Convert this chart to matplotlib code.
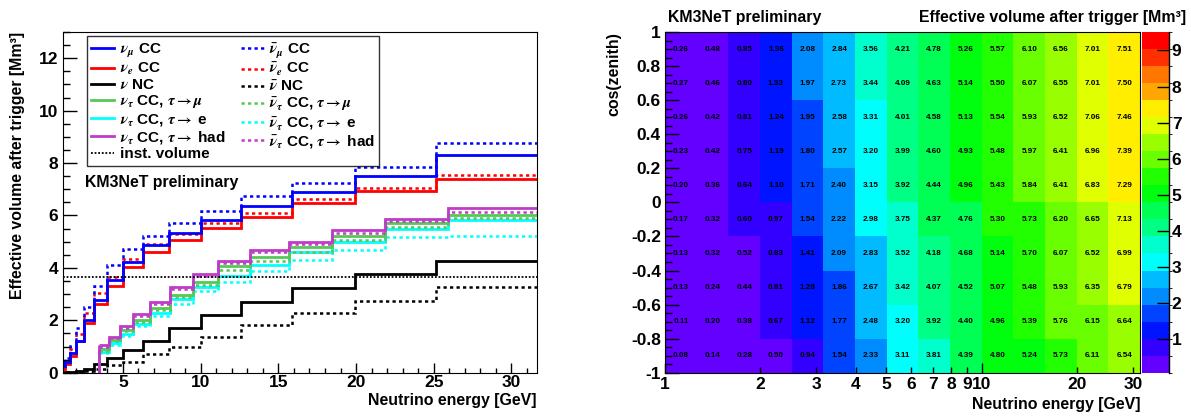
import numpy as np
import matplotlib
matplotlib.use("Agg")
import matplotlib.pyplot as plt
from matplotlib.colors import ListedColormap, BoundaryNorm
from matplotlib.lines import Line2D
from matplotlib.ticker import MultipleLocator, FixedLocator, FixedFormatter

plt.rcParams["font.family"] = ["Liberation Sans", "DejaVu Sans"]
plt.rcParams["font.weight"] = "bold"
plt.rcParams["mathtext.fontset"] = "stix"

# ---- left panel: effective volume vs neutrino energy ----
energy_edges = [1.0, 1.26, 1.58, 2.0, 2.51, 3.16, 3.98, 5.01, 6.31, 7.94,
                10.0, 12.59, 15.85, 19.95, 25.12, 31.62]
numu_cc = [0.25, 0.42, 0.74, 1.22, 2.0, 2.77, 3.55, 4.22, 4.87, 5.34, 5.84, 6.36, 6.91, 7.51, 8.31]
anumu_cc = [0.3, 0.55, 1.02, 1.69, 2.52, 3.31, 4.11, 4.71, 5.2, 5.7, 6.17, 6.75, 7.25, 7.86, 8.76]
nue_cc = [0.15, 0.35, 0.65, 1.2, 1.89, 2.61, 3.31, 4.03, 4.59, 5.06, 5.52, 5.95, 6.46, 6.95, 7.38]
anue_cc = [0.2, 0.45, 0.9, 1.48, 2.27, 3.03, 3.67, 4.34, 4.92, 5.3, 5.7, 6.1, 6.64, 7.05, 7.55]
nu_nc = [0.01, 0.02, 0.04, 0.08, 0.15, 0.32, 0.55, 0.85, 1.22, 1.69, 2.2, 2.71, 3.25, 3.77, 4.27]
anu_nc = [0.0, 0.01, 0.02, 0.04, 0.07, 0.13, 0.3, 0.42, 0.7, 0.99, 1.38, 1.82, 2.27, 2.75, 3.28]

tau_edges = [3.44, 4.08, 4.79, 5.64, 6.72, 8.0, 9.5, 11.1, 13.15, 15.67, 18.48, 21.85, 25.9, 31.62]
nutau_mu = [0.89, 1.25, 1.63, 2.01, 2.46, 2.97, 3.47, 4.06, 4.42, 4.8, 5.22, 5.7, 6.02]
anutau_mu = [0.84, 1.2, 1.58, 1.95, 2.38, 2.88, 3.33, 3.92, 4.25, 4.62, 5.07, 5.55, 5.92]
nutau_e = [0.8, 1.12, 1.48, 1.84, 2.28, 2.8, 3.27, 3.7, 4.12, 4.6, 5.0, 5.48, 5.83]
anutau_e = [0.74, 1.05, 1.4, 1.78, 2.18, 2.62, 3.13, 3.48, 3.88, 4.3, 4.68, 5.19, 5.21]
nutau_had = [1.06, 1.38, 1.78, 2.23, 2.68, 3.26, 3.75, 4.27, 4.69, 5.0, 5.43, 5.87, 6.27]
anutau_had = [1.0, 1.32, 1.72, 2.17, 2.62, 3.2, 3.69, 4.18, 4.62, 4.93, 5.35, 5.79, 6.13]

inst_volume = 3.67

# ---- right panel: effective volume map (energy x cos zenith) ----
coszen_edges = [-1.0, -0.8, -0.6, -0.4, -0.2, 0.0, 0.2, 0.4, 0.6, 0.8, 1.0]
# rows listed from top (cos = 1) to bottom (cos = -1)
veff_map = [
    [0.26, 0.48, 0.85, 1.36, 2.08, 2.84, 3.56, 4.21, 4.78, 5.26, 5.57, 6.10, 6.56, 7.01, 7.51],
    [0.27, 0.46, 0.80, 1.33, 1.97, 2.73, 3.44, 4.09, 4.63, 5.14, 5.50, 6.07, 6.55, 7.01, 7.50],
    [0.26, 0.42, 0.81, 1.24, 1.95, 2.58, 3.31, 4.01, 4.58, 5.13, 5.54, 5.93, 6.52, 7.06, 7.46],
    [0.23, 0.42, 0.75, 1.19, 1.80, 2.57, 3.20, 3.99, 4.60, 4.93, 5.48, 5.97, 6.41, 6.96, 7.39],
    [0.20, 0.36, 0.64, 1.10, 1.71, 2.40, 3.15, 3.92, 4.44, 4.96, 5.43, 5.84, 6.41, 6.83, 7.29],
    [0.17, 0.32, 0.60, 0.97, 1.54, 2.22, 2.98, 3.75, 4.37, 4.76, 5.30, 5.73, 6.20, 6.65, 7.13],
    [0.13, 0.32, 0.52, 0.83, 1.41, 2.09, 2.83, 3.52, 4.18, 4.68, 5.14, 5.70, 6.07, 6.52, 6.99],
    [0.13, 0.24, 0.44, 0.81, 1.28, 1.86, 2.67, 3.42, 4.07, 4.52, 5.07, 5.48, 5.93, 6.35, 6.79],
    [0.11, 0.20, 0.38, 0.67, 1.12, 1.77, 2.48, 3.20, 3.92, 4.40, 4.96, 5.39, 5.76, 6.15, 6.64],
    [0.08, 0.14, 0.28, 0.50, 0.94, 1.54, 2.33, 3.11, 3.81, 4.39, 4.80, 5.24, 5.73, 6.11, 6.54],
]
z_min, z_max = 0.08, 9.51

# ROOT "pretty" palette sampled at 20 contour levels
palette = ["#6300FF", "#3300FF", "#0014FF", "#0044FF", "#008BFF",
           "#00BBFF", "#00FFFC", "#00FFCC", "#00FF85", "#00FF55",
           "#00FF0E", "#22FF00", "#69FF00", "#99FF00", "#E0FF00",
           "#FFEE00", "#FFA700", "#FF7700", "#FF3000", "#FF0000"]

BLUE, RED, BLACK = "#0000FF", "#FF0000", "#000000"
GREEN, CYAN, MAGENTA = "#55C855", "#00FFFF", "#C03CC8"
DOT = (0, (1.3, 1.3))
FS = 11.4      # titles
TFS = 12.5     # tick labels

fig = plt.figure(figsize=(11.91, 4.17), dpi=100)

# ================= left panel =================
ax = fig.add_axes([0.0526, 0.1062, 0.398, 0.817])

series = [
    (nu_nc, energy_edges, BLACK, "-"), (anu_nc, energy_edges, BLACK, DOT),
    (nutau_e, tau_edges, CYAN, "-"), (anutau_e, tau_edges, CYAN, DOT),
    (nutau_mu, tau_edges, GREEN, "-"), (anutau_mu, tau_edges, GREEN, DOT),
    (nutau_had, tau_edges, MAGENTA, "-"), (anutau_had, tau_edges, MAGENTA, DOT),
    (nue_cc, energy_edges, RED, "-"), (anue_cc, energy_edges, RED, DOT),
    (numu_cc, energy_edges, BLUE, "-"), (anumu_cc, energy_edges, BLUE, DOT),
]
for vals, edges, col, ls in series:
    lw = 2.0 if ls == "-" else 1.8
    ax.stairs(vals, edges, baseline=None, color=col, linestyle=ls, linewidth=lw)
    # rising edge from zero at the first bin (ROOT hist outline)
    ax.vlines(edges[0], 0, vals[0], color=col, linestyle=ls, linewidth=lw)

ax.axhline(inst_volume, color="black", linestyle=(0, (1, 1)), linewidth=1.3)

ax.set_xlim(1.12, 31.62)
ax.set_ylim(0, 13)
ax.xaxis.set_major_locator(MultipleLocator(5))
ax.xaxis.set_minor_locator(MultipleLocator(1))
ax.yaxis.set_major_locator(MultipleLocator(2))
ax.yaxis.set_minor_locator(MultipleLocator(0.5))
ax.tick_params(axis="both", which="both", direction="in", labelsize=TFS, width=1)
ax.tick_params(axis="x", which="major", length=7, pad=2)
ax.tick_params(axis="x", which="minor", length=3.5)
ax.tick_params(axis="y", which="major", length=10, pad=3)
ax.tick_params(axis="y", which="minor", length=5)

ax.set_xlabel("Neutrino energy [GeV]", fontsize=FS, fontweight="bold", loc="right")
ax.xaxis.set_label_coords(1.0, -0.06)
ax.set_ylabel("Effective volume after trigger [Mm\u00b3]", fontsize=FS, fontweight="bold", loc="top")
ax.yaxis.set_label_coords(-0.08, 1.0)

ax.text(0.047, 0.557, "KM3NeT preliminary", transform=ax.transAxes,
        fontsize=FS, fontweight="bold", va="center", ha="left")

handles = [
    Line2D([], [], color=BLUE, lw=2.0), Line2D([], [], color=RED, lw=2.0),
    Line2D([], [], color=BLACK, lw=2.0), Line2D([], [], color=GREEN, lw=2.0),
    Line2D([], [], color=CYAN, lw=2.0), Line2D([], [], color=MAGENTA, lw=2.0),
    Line2D([], [], color="black", lw=1.3, linestyle=(0, (1, 1))),
    Line2D([], [], color=BLUE, lw=1.8, linestyle=DOT), Line2D([], [], color=RED, lw=1.8, linestyle=DOT),
    Line2D([], [], color=BLACK, lw=1.8, linestyle=DOT), Line2D([], [], color=GREEN, lw=1.8, linestyle=DOT),
    Line2D([], [], color=CYAN, lw=1.8, linestyle=DOT), Line2D([], [], color=MAGENTA, lw=1.8, linestyle=DOT),
]
labels = [
    r"$\nu_\mu$ CC", r"$\nu_e$ CC", r"$\nu$ NC",
    r"$\nu_\tau$ CC, $\tau \rightarrow \mu$", r"$\nu_\tau$ CC, $\tau \rightarrow$ e",
    r"$\nu_\tau$ CC, $\tau \rightarrow$ had", "inst. volume",
    r"$\bar{\nu}_\mu$ CC", r"$\bar{\nu}_e$ CC", r"$\bar{\nu}$ NC",
    r"$\bar{\nu}_\tau$ CC, $\tau \rightarrow \mu$", r"$\bar{\nu}_\tau$ CC, $\tau \rightarrow$ e",
    r"$\bar{\nu}_\tau$ CC, $\tau \rightarrow$ had",
]
leg = ax.legend(handles, labels, ncol=2, loc="upper left", bbox_to_anchor=(0.051, 0.988),
                fontsize=11, frameon=True, fancybox=False, edgecolor="black",
                handlelength=1.5, handletextpad=0.35, labelspacing=0.08,
                columnspacing=1.0, borderpad=0.3, borderaxespad=0)
leg.get_frame().set_linewidth(1.0)
for t in leg.get_texts():
    t.set_fontweight("bold")

# ================= right panel =================
ax2 = fig.add_axes([0.5584, 0.1062, 0.3988, 0.817])
cmap = ListedColormap(palette)
norm = BoundaryNorm(np.linspace(z_min, z_max, len(palette) + 1), cmap.N)
z = np.array(veff_map)[::-1]
mesh = ax2.pcolormesh(energy_edges, coszen_edges, z, cmap=cmap, norm=norm, shading="flat")
ax2.set_xscale("log")
ax2.set_xlim(1.0, 31.62)
ax2.set_ylim(-1, 1)

xc = np.sqrt(np.array(energy_edges[:-1]) * np.array(energy_edges[1:]))
yc = 0.5 * (np.array(coszen_edges[:-1]) + np.array(coszen_edges[1:]))
for i, yv in enumerate(yc):
    for j, xv in enumerate(xc):
        ax2.text(xv, yv, f"{z[i, j]:.2f}", ha="center", va="center",
                 fontsize=5.9, fontweight="bold", color="black")

ax2.xaxis.set_major_locator(FixedLocator([1, 10]))
ax2.xaxis.set_major_formatter(FixedFormatter(["1", "10"]))
minor_x = [2, 3, 4, 5, 6, 7, 8, 9, 20, 30]
ax2.xaxis.set_minor_locator(FixedLocator(minor_x))
ax2.xaxis.set_minor_formatter(FixedFormatter([str(v) for v in minor_x]))
ax2.yaxis.set_major_locator(MultipleLocator(0.2))
ax2.yaxis.set_minor_locator(MultipleLocator(0.05))
ax2.yaxis.set_major_formatter(plt.FuncFormatter(lambda v, p: f"{v:g}" if abs(v) > 1e-9 else "0"))
ax2.tick_params(axis="both", which="both", direction="in", labelsize=TFS, width=1)
ax2.tick_params(axis="x", which="major", length=7, pad=3)
ax2.tick_params(axis="x", which="minor", length=4, pad=3)
ax2.tick_params(axis="y", which="major", length=10, pad=3)
ax2.tick_params(axis="y", which="minor", length=5)

ax2.set_xlabel("Neutrino energy [GeV]", fontsize=FS, fontweight="bold", loc="right")
ax2.xaxis.set_label_coords(1.0, -0.07)
ax2.set_ylabel("cos(zenith)", fontsize=FS, fontweight="bold", loc="top")
ax2.yaxis.set_label_coords(-0.093, 1.0)

fig.text(668 / 1191, 0.959, "KM3NeT preliminary", fontsize=FS, fontweight="bold",
         ha="left", va="center")
fig.text(1186 / 1191, 0.959, "Effective volume after trigger [Mm\u00b3]", fontsize=FS,
         fontweight="bold", ha="right", va="center")

cax = fig.add_axes([0.9589, 0.1062, 0.0227, 0.817])
cb = fig.colorbar(mesh, cax=cax, ticks=range(1, 10))
cb.outline.set_visible(False)
cax.tick_params(direction="in", length=9, width=1, labelsize=TFS, right=True, pad=2)
cax.axvline(1.0, color="black", lw=1.0, clip_on=False)

fig.savefig("out.png", dpi=100)
